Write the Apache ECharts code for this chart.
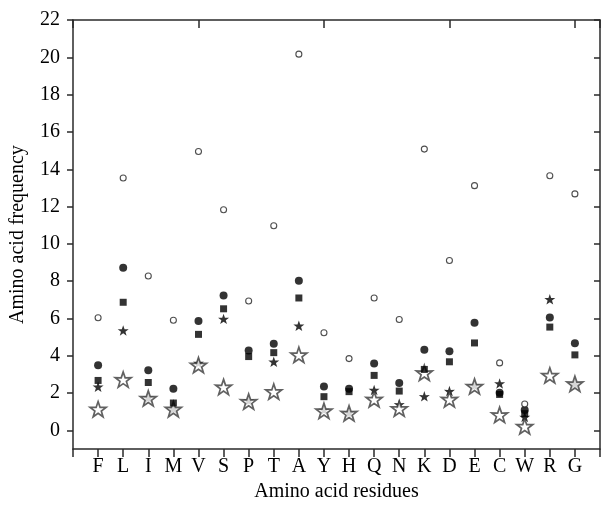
<!DOCTYPE html>
<html><head><meta charset="utf-8">
<script src="https://cdn.jsdelivr.net/npm/echarts@6/dist/echarts.min.js"></script>
<style>html,body{margin:0;padding:0;background:#fff}#c{width:603px;height:507px}</style>
</head><body><div id="c"></div>
<script>
var categories = ['F','L','I','M','V','S','P','T','A','Y','H','Q','N','K','D','E','C','W','R','G'];
var yTicks = [0,2,4,6,8,10,12,14,16,18,20,22];
var openCircle   = [6.04, 13.53, 8.28, 5.91, 14.95, 11.83, 6.94, 10.97, 20.17, 5.24, 3.85, 7.10, 5.95, 15.08, 9.11, 13.12, 3.62, 1.42, 13.65, 12.68];
var filledCircle = [3.50, 8.72, 3.23, 2.24, 5.86, 7.23, 4.28, 4.65, 8.03, 2.36, 2.24, 3.59, 2.54, 4.33, 4.25, 5.77, 2.02, 1.10, 6.06, 4.67];
var filledSquare = [2.68, 6.87, 2.57, 1.47, 5.15, 6.52, 3.96, 4.17, 7.10, 1.81, 2.08, 2.95, 2.11, 3.27, 3.68, 4.69, 1.93, 0.90, 5.54, 4.05];
var filledStar   = [2.34, 5.36, 1.75, 1.15, 3.62, 5.98, 1.60, 3.68, 5.61, 1.10, 0.95, 2.17, 1.40, 1.83, 2.11, 2.40, 2.52, 0.72, 7.03, 2.50];
var openStar     = [1.14, 2.73, 1.72, 1.14, 3.50, 2.33, 1.55, 2.08, 4.05, 1.05, 0.92, 1.67, 1.17, 3.09, 1.67, 2.36, 0.84, 0.22, 2.95, 2.50];

var STAR = 'path://M50,0 L61.8,35.1 L97.6,34.5 L69.1,56.7 L79.4,90.5 L50,70 L20.6,90.5 L30.9,56.7 L2.4,34.5 L38.2,35.1 Z';
function pts(arr){ return categories.map(function(c,i){ return [i+1, arr[i]]; }); }

var FONT = 'Liberation Serif';
var AX = '#2a2a2a';
var chart = echarts.init(document.getElementById('c'), null, {renderer:'canvas'});
chart.setOption({
  backgroundColor:'#fff',
  animation:false,
  grid:{left:72, top:20, width:533, height:432, containLabel:false},
  xAxis:[{
    type:'value', min:0, max:21, interval:1, position:'bottom',
    axisLine:{show:true, onZero:false, lineStyle:{color:AX, width:1.5}},
    axisTick:{show:true, inside:false, length:8, lineStyle:{color:AX, width:1.5}},
    axisLabel:{show:true, margin:8, color:'#000', fontFamily:FONT, fontSize:20,
      formatter:function(v){ return categories[v-1] || ''; }},
    splitLine:{show:false},
    name:'Amino acid residues', nameLocation:'middle', nameGap:32,
    nameTextStyle:{color:'#000', fontFamily:FONT, fontSize:20}
  },{
    type:'value', min:0, max:21, interval:5, position:'top',
    axisLine:{show:true, onZero:false, lineStyle:{color:AX, width:1.5}},
    axisTick:{show:true, inside:true, length:8, lineStyle:{color:AX, width:1.5}},
    axisLabel:{show:false}, splitLine:{show:false}
  }],
  yAxis:[{
    type:'value', min:-1, max:22, position:'left',
    axisLine:{show:true, onZero:false, lineStyle:{color:AX, width:1.5}},
    axisTick:{show:true, inside:false, length:6, customValues:yTicks, lineStyle:{color:AX, width:1.5}},
    axisLabel:{show:true, margin:13, color:'#000', fontFamily:FONT, fontSize:20, customValues:yTicks},
    splitLine:{show:false},
    name:'Amino acid frequency', nameLocation:'middle', nameGap:45, nameRotate:90,
    nameTextStyle:{color:'#000', fontFamily:FONT, fontSize:20}
  },{
    type:'value', min:-1, max:22, position:'right',
    axisLine:{show:true, onZero:false, lineStyle:{color:AX, width:1.5}},
    axisTick:{show:true, inside:true, length:6, customValues:yTicks, lineStyle:{color:AX, width:1.5}},
    axisLabel:{show:false}, splitLine:{show:false}
  }],
  series:[
    {name:'Filled star', type:'scatter', data:pts(filledStar), symbol:STAR, symbolSize:11, symbolKeepAspect:true,
      itemStyle:{color:'#000'}},
    {name:'Open star', type:'scatter', data:pts(openStar), symbol:STAR, symbolSize:16, symbolKeepAspect:true,
      itemStyle:{color:'#fff', borderColor:'#3a3a3a', borderWidth:1.7}},
    {name:'Filled square', type:'scatter', data:pts(filledSquare), symbol:'rect', symbolSize:7,
      itemStyle:{color:'#000'}},
    {name:'Filled circle', type:'scatter', data:pts(filledCircle), symbol:'circle', symbolSize:8,
      itemStyle:{color:'#000'}},
    {name:'Open circle', type:'scatter', data:pts(openCircle), symbol:'circle', symbolSize:6,
      itemStyle:{color:'#fff', borderColor:'#222', borderWidth:1.1}}
  ]
});
</script></body></html>
